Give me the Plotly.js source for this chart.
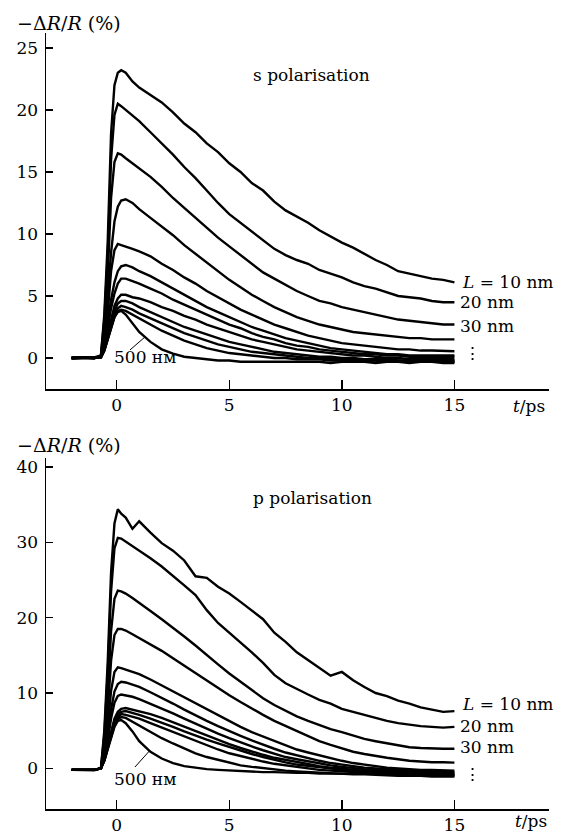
<!DOCTYPE html>
<html>
<head>
<meta charset="utf-8">
<script src="https://cdn.plot.ly/plotly-3.0.1.min.js"></script>
<style>html,body{margin:0;padding:0;background:#fff;}</style>
</head>
<body>
<div id="chart" style="width:563px;height:838px;"></div>
<script>
// time axis (ps), shared by all traces
const time = [-2,-1.5,-1,-0.7,-0.55,-0.4,-0.25,-0.1,0.05,0.2,0.4,0.7,1,1.5,2,2.5,3,3.5,4,4.5,5,5.5,6,6.5,7,7.5,8,8.5,9,9.5,10,10.5,11,11.5,12,12.5,13,13.5,14,14.5,15];

// s polarisation, -dR/R (%)
const s1 = [0,0.05,-0.05,0.2,3.5,9.3,18.1,22.0,23.0,23.2,23.0,22.3,21.8,21.2,20.6,19.8,18.9,18.2,17.3,16.6,15.7,15.0,14.1,13.5,12.6,11.9,11.4,10.9,10.3,9.8,9.3,8.9,8.4,7.9,7.5,7.0,6.8,6.6,6.4,6.3,6.1];
const s2 = [0,0,0.05,0.2,3.1,8.2,16.0,19.6,20.5,20.3,20.0,19.6,19.1,18.2,17.3,16.4,15.4,14.5,13.5,12.5,11.6,10.9,10.2,9.5,8.8,8.3,7.9,7.6,7.1,6.8,6.5,6.1,5.8,5.6,5.3,5.0,4.9,4.8,4.6,4.5,4.5];
const s3 = [0,0.05,0,0.15,2.5,6.6,12.9,15.8,16.5,16.4,16.1,15.7,15.3,14.6,13.8,12.9,12.1,11.3,10.5,9.7,9.0,8.3,7.6,6.9,6.4,5.9,5.4,5.0,4.6,4.4,4.1,3.9,3.7,3.5,3.3,3.1,3.0,2.9,2.8,2.7,2.7];
const s4 = [0,0,0.05,0.1,1.9,4.9,8.5,11.0,12.2,12.7,12.8,12.5,12.0,11.3,10.6,9.9,9.1,8.4,7.7,7.0,6.3,5.7,5.1,4.6,4.1,3.7,3.3,3.0,2.7,2.5,2.3,2.1,2.0,1.9,1.8,1.7,1.6,1.6,1.5,1.5,1.5];
const s5 = [0,0,0,0.1,1.4,3.6,7.0,8.7,9.2,9.1,9.0,8.8,8.6,8.2,7.6,7.1,6.5,6.0,5.4,4.9,4.4,3.9,3.5,3.1,2.7,2.4,2.1,1.8,1.6,1.4,1.2,1.1,1.0,0.9,0.8,0.7,0.7,0.6,0.6,0.55,0.55];
const s6 = [0,0,0,0.1,1.1,2.8,4.7,6.1,7.0,7.4,7.5,7.3,7.0,6.6,6.1,5.6,5.1,4.6,4.1,3.7,3.3,2.9,2.5,2.2,1.9,1.6,1.4,1.2,1.0,0.8,0.7,0.6,0.5,0.4,0.3,0.3,0.2,0.2,0.2,0.2,0.2];
const s7 = [0,0,0,0.1,1.0,2.4,4.0,5.2,6.0,6.4,6.4,6.2,6.0,5.6,5.2,4.7,4.3,3.9,3.5,3.1,2.7,2.4,2.0,1.7,1.5,1.2,1.0,0.9,0.7,0.6,0.5,0.4,0.3,0.3,0.2,0.2,0.1,0.1,0.1,0.1,0.1];
const s8 = [0,0,0,0.05,0.8,1.9,3.2,4.2,4.8,5.1,5.1,4.9,4.8,4.5,4.1,3.8,3.4,3.1,2.7,2.4,2.1,1.8,1.5,1.3,1.1,0.9,0.7,0.6,0.5,0.4,0.3,0.2,0.2,0.1,0.0,0.0,-0.1,-0.1,-0.1,-0.1,-0.1];
const s9 = [0,0,0,0.05,0.7,1.7,2.9,3.8,4.4,4.6,4.6,4.4,4.1,3.7,3.3,2.9,2.5,2.2,1.9,1.6,1.3,1.1,0.9,0.7,0.5,0.4,0.3,0.2,0.1,0.1,0.0,0.0,-0.1,-0.1,-0.1,-0.2,-0.2,-0.2,-0.2,-0.2,-0.2];
const s10 = [0,0,0,0.05,0.6,1.6,2.7,3.5,4.0,4.2,4.1,3.9,3.6,3.2,2.8,2.4,2.0,1.7,1.4,1.1,0.9,0.7,0.5,0.4,0.3,0.2,0.1,0.0,0.0,-0.1,-0.1,-0.1,-0.2,-0.2,-0.2,-0.2,-0.3,-0.3,-0.3,-0.3,-0.3];
const s11 = [0,0,0,0.05,0.6,1.5,2.5,3.3,3.8,3.9,3.8,3.5,3.2,2.7,2.2,1.8,1.4,1.1,0.8,0.6,0.4,0.3,0.2,0.1,0.0,0.0,-0.1,-0.1,-0.1,-0.2,-0.2,-0.2,-0.2,-0.2,-0.3,-0.3,-0.3,-0.2,-0.3,-0.3,-0.3];
const s12 = [0,0,0,0.05,0.6,1.5,2.5,3.3,3.7,3.8,3.5,2.8,2.1,1.3,0.7,0.35,0.1,0.0,-0.1,-0.2,-0.2,-0.3,-0.3,-0.3,-0.3,-0.3,-0.3,-0.3,-0.3,-0.4,-0.3,-0.3,-0.3,-0.4,-0.3,-0.3,-0.4,-0.3,-0.3,-0.4,-0.4];

// p polarisation, -dR/R (%)
const p1 = [-0.2,-0.2,-0.25,0.0,5,14,26,32.5,34.4,33.8,33.3,31.8,32.8,31.3,29.9,28.9,27.6,25.5,25.3,24.1,23.2,22.1,20.9,19.8,18.0,16.8,15.4,14.4,13.3,12.3,12.8,11.7,10.8,10.0,9.6,9.0,8.6,8.1,7.8,7.5,7.6];
const p2 = [-0.2,-0.2,-0.2,0.0,4.4,12.5,23.5,29.2,30.6,30.5,30.1,29.6,29.0,27.9,26.8,25.6,24.3,23.0,21.0,19.3,18.0,16.8,15.4,14.0,12.4,11.3,10.5,9.8,9.1,8.6,7.9,7.5,7.0,6.7,6.3,6.0,5.8,5.6,5.5,5.4,5.5];
const p3 = [-0.2,-0.2,-0.2,0.0,3.4,9.6,18.2,22.5,23.6,23.5,23.2,22.6,22.0,20.9,19.8,18.7,17.5,16.3,15.0,13.8,12.6,11.5,10.4,9.3,8.4,7.6,6.9,6.3,5.7,5.2,4.8,4.3,3.9,3.6,3.3,3.0,2.8,2.7,2.6,2.6,2.6];
const p4 = [-0.2,-0.2,-0.2,0.0,2.7,7.5,14.3,17.7,18.5,18.5,18.3,17.8,17.3,16.5,15.6,14.6,13.6,12.6,11.6,10.7,9.7,8.8,7.9,7.1,6.3,5.6,4.9,4.2,3.6,3.1,2.6,2.2,1.9,1.6,1.4,1.2,1.0,0.9,0.8,0.8,0.75];
const p5 = [-0.2,-0.2,-0.2,0.0,2.0,5.4,10.3,12.8,13.4,13.3,13.1,12.8,12.5,11.8,11.0,10.2,9.4,8.6,7.8,7.0,6.2,5.5,4.8,4.2,3.6,3.0,2.5,2.1,1.7,1.3,1.0,0.7,0.5,0.3,0.1,0.0,-0.1,-0.2,-0.2,-0.3,-0.3];
const p6 = [-0.2,-0.2,-0.2,0.0,1.7,4.4,7.8,10.2,11.2,11.5,11.4,11.1,10.8,10.1,9.4,8.6,7.8,7.0,6.3,5.6,4.9,4.3,3.7,3.1,2.6,2.1,1.7,1.3,1.0,0.7,0.5,0.3,0.1,0.0,-0.1,-0.2,-0.3,-0.4,-0.4,-0.5,-0.5];
const p7 = [-0.2,-0.2,-0.2,0.0,1.4,3.7,6.6,8.7,9.6,9.8,9.7,9.5,9.2,8.6,8.0,7.3,6.6,5.9,5.2,4.6,4.0,3.4,2.9,2.4,1.9,1.5,1.2,0.9,0.6,0.4,0.2,0.0,-0.1,-0.2,-0.3,-0.4,-0.4,-0.5,-0.5,-0.6,-0.6];
const p8 = [-0.2,-0.2,-0.2,0.0,1.2,3.0,5.0,6.6,7.5,7.9,8.0,7.8,7.6,7.2,6.7,6.1,5.5,4.9,4.3,3.7,3.2,2.7,2.2,1.8,1.4,1.1,0.8,0.5,0.3,0.1,0.0,-0.2,-0.3,-0.4,-0.5,-0.5,-0.6,-0.7,-0.7,-0.8,-0.8];
const p9 = [-0.2,-0.2,-0.2,0.0,1.1,2.9,4.8,6.3,7.2,7.5,7.6,7.4,7.1,6.6,6.1,5.5,4.9,4.3,3.8,3.3,2.8,2.3,1.9,1.5,1.1,0.8,0.5,0.3,0.1,-0.1,-0.2,-0.3,-0.4,-0.5,-0.6,-0.6,-0.7,-0.8,-0.8,-0.9,-0.9];
const p10 = [-0.2,-0.2,-0.2,0.0,1.1,2.7,4.5,6.0,6.8,7.2,7.1,6.9,6.6,6.0,5.4,4.8,4.2,3.6,3.0,2.5,2.0,1.6,1.2,0.9,0.6,0.4,0.2,0.0,-0.2,-0.3,-0.4,-0.5,-0.6,-0.7,-0.7,-0.8,-0.8,-0.9,-0.9,-1.0,-1.0];
const p11 = [-0.2,-0.2,-0.2,0.0,1.0,2.6,4.3,5.7,6.5,6.8,6.7,6.2,5.6,4.8,4.0,3.3,2.6,2.0,1.5,1.1,0.7,0.4,0.2,0.0,-0.2,-0.3,-0.4,-0.5,-0.6,-0.7,-0.7,-0.8,-0.8,-0.9,-0.9,-1.0,-1.0,-1.0,-1.1,-1.1,-1.1];
const p12 = [-0.2,-0.2,-0.2,0.0,1.0,2.5,4.1,5.5,6.3,6.4,6.0,4.9,3.6,2.2,1.3,0.7,0.3,0.1,-0.1,-0.2,-0.3,-0.4,-0.4,-0.5,-0.5,-0.6,-0.6,-0.6,-0.7,-0.7,-0.7,-0.7,-0.8,-0.8,-0.8,-0.8,-0.8,-0.8,-0.8,-0.8,-0.8];

const sSeries = [s1,s2,s3,s4,s5,s6,s7,s8,s9,s10,s11,s12];
const pSeries = [p1,p2,p3,p4,p5,p6,p7,p8,p9,p10,p11,p12];

const xTicks = [0,5,10,15];
const ySTicks = [0,5,10,15,20,25];
const yPTicks = [0,10,20,30,40];
const curveLabels = ['<i>L</i> = 10 nm','20 nm','30 nm','⋮'];

const FONT = 'DejaVu Serif';
const lineStyle = {color:'#000', width:2.4};

const traces = [];
sSeries.forEach(v => traces.push({x:time, y:v, type:'scatter', mode:'lines', line:lineStyle, xaxis:'x', yaxis:'y'}));
pSeries.forEach(v => traces.push({x:time, y:v, type:'scatter', mode:'lines', line:lineStyle, xaxis:'x2', yaxis:'y2'}));

function xax(anchor){
  return {anchor:anchor, domain:[0,1], range:[-3.14,19.2], tickvals:xTicks,
    ticks:'inside', ticklen:9, tickwidth:1.5, tickcolor:'#000', showline:true, linewidth:1.5, linecolor:'#000',
    showgrid:false, zeroline:false, tickfont:{family:FONT,size:17,color:'#000'}};
}
function yax(anchor, dom, rng, tv){
  return {anchor:anchor, domain:dom, range:rng, tickvals:tv,
    ticks:'inside', ticklen:7, tickwidth:1.5, tickcolor:'#000', showline:true, linewidth:1.5, linecolor:'#000',
    showgrid:false, zeroline:false, ticklabelstandoff:3, tickfont:{family:FONT,size:17,color:'#000'}};
}

const ann = [];
function txt(xr, yr, x, y, text, xa, size){
  ann.push({xref:xr, yref:yr, x:x, y:y, text:text, showarrow:false, xanchor:xa||'center', yanchor:'middle',
    font:{family:FONT, size:size||17, color:'#000'}});
}
// axis titles
txt('paper','paper',-0.0616,1.0129,'−Δ<i>R</i>/<i>R</i> (%)','left',19);
txt('paper','paper',-0.0616,0.469,'−Δ<i>R</i>/<i>R</i> (%)','left',19);
txt('paper','paper',0.960,0.5195,'<i>t</i>/ps','center',17);
txt('paper','paper',0.964,-0.016,'<i>t</i>/ps','center',17);
// panel titles
txt('x','y',8.65,22.8,'s polarisation');
txt('x2','y2',8.7,35.9,'p polarisation');
// curve labels (top)
txt('x','y',15.26,6.13,curveLabels[0],'left');
txt('x','y',15.18,4.5,curveLabels[1],'left');
txt('x','y',15.18,2.6,curveLabels[2],'left');
txt('x','y',15.8,0.4,curveLabels[3],'center');
txt('x','y',1.26,0.08,'500 нм');
// curve labels (bottom)
txt('x2','y2',15.26,8.6,curveLabels[0],'left');
txt('x2','y2',15.18,5.6,curveLabels[1],'left');
txt('x2','y2',15.18,2.8,curveLabels[2],'left');
txt('x2','y2',15.8,-0.8,curveLabels[3],'center');
txt('x2','y2',1.26,-1.46,'500 нм');

const shapes = [
  {type:'line', xref:'x', yref:'y', x0:0.59, y0:0.65, x1:1.26, y1:1.7, line:{color:'#000', width:1}},
  {type:'line', xref:'x2', yref:'y2', x0:0.81, y0:0.17, x1:1.48, y1:2.4, line:{color:'#000', width:1}}
];

const layout = {
  width:563, height:838,
  margin:{l:46, r:14, t:33, b:29},
  showlegend:false,
  xaxis:xax('y'),
  yaxis:yax('x',[0.5412,1],[-2.5,26.2],ySTicks),
  xaxis2:xax('y2'),
  yaxis2:yax('x2',[0,0.4523],[-5.4,41.2],yPTicks),
  annotations:ann,
  shapes:shapes
};

Plotly.newPlot('chart', traces, layout, {staticPlot:true});
</script>
</body>
</html>
